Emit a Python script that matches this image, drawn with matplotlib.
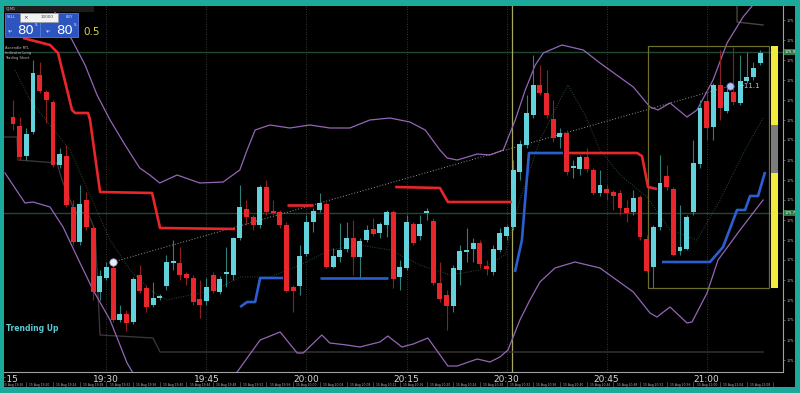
import numpy as np
import matplotlib
matplotlib.use("Agg")
import matplotlib.pyplot as plt
from matplotlib.patches import Rectangle
from matplotlib.transforms import blended_transform_factory

# 1-minute candles, x = minutes after 19:00 (first candle 19:16)
minutes = np.arange(16, 129)

opens = [175.883, 175.874, 175.844, 175.868, 175.925, 175.908, 175.898, 175.835, 175.844, 175.793,
         175.758, 175.800, 175.772, 175.708, 175.722, 175.732, 175.680, 175.686, 175.678, 175.725,
         175.712, 175.695, 175.702, 175.714, 175.737, 175.737, 175.726, 175.722, 175.701, 175.699,
         175.725, 175.708, 175.726, 175.725, 175.762, 175.791, 175.783, 175.775, 175.813, 175.789,
         175.788, 175.775, 175.713, 175.714, 175.746, 175.778, 175.790, 175.796, 175.733, 175.743,
         175.751, 175.762, 175.743, 175.760, 175.771, 175.767, 175.775, 175.788, 175.723, 175.732,
         175.776, 175.764, 175.787, 175.779, 175.717, 175.705, 175.694, 175.730, 175.748, 175.751,
         175.757, 175.734, 175.728, 175.750, 175.764, 175.773, 175.828, 175.855, 175.885, 175.915,
         175.907, 175.881, 175.863, 175.867, 175.832, 175.831, 175.843, 175.830, 175.807, 175.811,
         175.808, 175.807, 175.792, 175.788, 175.803, 175.761, 175.733, 175.773, 175.824, 175.811,
         175.749, 175.751, 175.788, 175.836, 175.899, 175.873, 175.915, 175.889, 175.908, 175.897,
         175.919, 175.923, 175.937]
highs = [175.900, 175.883, 175.872, 175.940, 175.938, 175.910, 175.900, 175.852, 175.855, 175.800,
         175.815, 175.808, 175.775, 175.730, 175.738, 175.735, 175.695, 175.690, 175.723, 175.735,
         175.715, 175.718, 175.706, 175.745, 175.760, 175.753, 175.728, 175.725, 175.720, 175.722,
         175.728, 175.724, 175.753, 175.763, 175.815, 175.800, 175.785, 175.815, 175.820, 175.800,
         175.790, 175.778, 175.715, 175.755, 175.785, 175.792, 175.807, 175.798, 175.752, 175.777,
         175.778, 175.780, 175.762, 175.775, 175.782, 175.778, 175.790, 175.790, 175.740, 175.785,
         175.778, 175.785, 175.792, 175.782, 175.738, 175.710, 175.735, 175.755, 175.772, 175.762,
         175.760, 175.740, 175.755, 175.772, 175.775, 175.840, 175.860, 175.905, 175.945, 175.935,
         175.930, 175.900, 175.872, 175.870, 175.840, 175.845, 175.852, 175.832, 175.830, 175.815,
         175.810, 175.810, 175.800, 175.810, 175.805, 175.765, 175.775, 175.845, 175.835, 175.813,
         175.795, 175.785, 175.860, 175.900, 175.910, 175.917, 175.950, 175.912, 175.953, 175.945,
         175.948, 175.938, 175.950]
lows = [175.870, 175.840, 175.840, 175.866, 175.907, 175.877, 175.833, 175.832, 175.793, 175.755,
        175.755, 175.770, 175.700, 175.700, 175.720, 175.678, 175.678, 175.669, 175.676, 175.707,
        175.688, 175.693, 175.700, 175.710, 175.730, 175.720, 175.715, 175.695, 175.682, 175.695,
        175.707, 175.706, 175.713, 175.720, 175.760, 175.775, 175.770, 175.772, 175.785, 175.785,
        175.772, 175.708, 175.688, 175.705, 175.744, 175.768, 175.788, 175.732, 175.732, 175.738,
        175.748, 175.725, 175.722, 175.758, 175.764, 175.762, 175.763, 175.712, 175.710, 175.730,
        175.755, 175.760, 175.780, 175.715, 175.698, 175.670, 175.688, 175.715, 175.738, 175.738,
        175.732, 175.725, 175.725, 175.748, 175.760, 175.770, 175.820, 175.852, 175.882, 175.905,
        175.882, 175.858, 175.852, 175.825, 175.822, 175.825, 175.828, 175.805, 175.804, 175.800,
        175.790, 175.785, 175.778, 175.785, 175.760, 175.728, 175.712, 175.770, 175.810, 175.744,
        175.745, 175.750, 175.785, 175.832, 175.860, 175.860, 175.880, 175.887, 175.895, 175.895,
        175.917, 175.920, 175.935]
closes = [175.876, 175.843, 175.866, 175.927, 175.909, 175.900, 175.835, 175.846, 175.795, 175.758,
          175.796, 175.773, 175.708, 175.724, 175.733, 175.680, 175.686, 175.677, 175.721, 175.709,
          175.693, 175.702, 175.704, 175.738, 175.738, 175.725, 175.722, 175.698, 175.695, 175.713,
          175.709, 175.721, 175.728, 175.762, 175.793, 175.783, 175.775, 175.813, 175.788, 175.787,
          175.775, 175.709, 175.709, 175.744, 175.778, 175.789, 175.797, 175.733, 175.744, 175.750,
          175.762, 175.743, 175.759, 175.770, 175.766, 175.776, 175.788, 175.721, 175.733, 175.778,
          175.757, 175.776, 175.788, 175.717, 175.701, 175.694, 175.732, 175.749, 175.750, 175.757,
          175.736, 175.731, 175.751, 175.767, 175.773, 175.830, 175.856, 175.887, 175.915, 175.907,
          175.885, 175.862, 175.867, 175.828, 175.833, 175.843, 175.831, 175.807, 175.815, 175.807,
          175.804, 175.792, 175.787, 175.802, 175.763, 175.729, 175.773, 175.817, 175.813, 175.745,
          175.753, 175.783, 175.837, 175.892, 175.872, 175.915, 175.892, 175.908, 175.898, 175.919,
          175.923, 175.932, 175.947]

# bollinger-like bands (purple)
upper_t = [21.55, 23.05, 24.85, 26.8, 28.6, 30.55, 32.8, 35.0, 36.5, 38.0, 40.6, 44.0, 47.5, 50.0, 51.1,
           52.3, 54.5, 57.5, 60.5, 63.5, 66.5, 69.5, 72.5, 75.5, 77.8, 80.0, 81.1, 82.6, 85.6, 87.5,
           89.5, 91.3, 92.8, 94.3, 95.5, 98.3, 101.5, 104.0, 109.0, 111.5, 112.7, 114.5, 117.05,
           118.55, 120.95, 123.05, 125.45, 127.55]
upper_p = [175.995, 175.980, 175.960, 175.935, 175.905, 175.880, 175.855, 175.832, 175.825, 175.817,
           175.825, 175.817, 175.818, 175.830, 175.850, 175.870, 175.875, 175.872, 175.875, 175.872,
           175.872, 175.880, 175.882, 175.878, 175.870, 175.850, 175.842, 175.840, 175.846, 175.845,
           175.850, 175.880, 175.910, 175.935, 175.947, 175.955, 175.950, 175.937, 175.913, 175.893,
           175.890, 175.897, 175.883, 175.890, 175.920, 175.957, 175.983, 176.000]
lower_t = [14.8, 17.8, 19.0, 21.55, 23.5, 26.05, 28.0, 30.55, 33.1, 35.05, 44.0, 49.6, 53.05, 56.05,
           58.6, 59.5, 62.3, 63.5, 66.05, 68.0, 71.0, 72.2, 74.3, 76.0, 78.2, 81.2, 82.6, 85.6, 87.5,
           89.0, 90.2, 92.0, 93.5, 95.0, 97.25, 100.25, 104.0, 109.0, 111.5, 112.55, 114.5, 117.05,
           117.8, 120.05, 121.7, 125.0, 128.45]
lower_p = [175.827, 175.797, 175.798, 175.793, 175.773, 175.737, 175.710, 175.680, 175.637, 175.615,
           175.600, 175.628, 175.660, 175.668, 175.647, 175.647, 175.665, 175.657, 175.655, 175.653,
           175.658, 175.664, 175.653, 175.656, 175.662, 175.634, 175.634, 175.641, 175.638, 175.643,
           175.650, 175.680, 175.700, 175.718, 175.732, 175.738, 175.732, 175.708, 175.687, 175.683,
           175.693, 175.677, 175.678, 175.707, 175.740, 175.770, 175.800]

# trailing stop lines (segments)
red_stop = [
    ([17.5, 21.55, 22.75, 24.85, 25.3, 27.25, 27.55, 29.05, 36.85, 38.05, 49.3],
     [175.962, 175.955, 175.947, 175.890, 175.887, 175.887, 175.880, 175.808, 175.807, 175.772, 175.771]),
    ([57.1, 61.0], [175.795, 175.795]),
    ([73.3, 80.0, 81.2, 90.8], [175.813, 175.812, 175.798, 175.798]),
    ([99.2, 109.55, 110.3, 111.2, 112.55], [175.847, 175.847, 175.844, 175.813, 175.811]),
]
blue_stop = [
    ([50.05, 51.1, 52.3, 53.05, 56.5], [175.693, 175.698, 175.698, 175.722, 175.722]),
    ([62.0, 72.2], [175.722, 175.722]),
    ([91.25, 92.3, 93.35, 98.45], [175.728, 175.760, 175.847, 175.847]),
    ([113.3, 120.5, 122.45, 124.55, 125.75, 126.5, 127.7, 128.75],
     [175.738, 175.738, 175.753, 175.790, 175.790, 175.804, 175.804, 175.828]),
]

# dotted average line
mid_t = [16.3, 18.55, 21.55, 24.55, 27.55, 30.55, 33.55, 36.55, 39.1, 42.55, 46.3, 50.05, 54.55, 59.05,
         63.55, 68.0, 72.5, 77.0, 81.5, 86.0, 89.75, 92.0, 95.0, 98.0, 99.2, 101.75, 104.0, 107.0,
         111.05, 114.5, 118.55, 122.0, 125.75, 128.45]
mid_p = [175.930, 175.900, 175.875, 175.850, 175.805, 175.760, 175.730, 175.710, 175.700, 175.705,
         175.710, 175.723, 175.723, 175.735, 175.750, 175.755, 175.750, 175.735, 175.725, 175.730,
         175.745, 175.800, 175.860, 175.900, 175.915, 175.885, 175.850, 175.825, 175.803, 175.770,
         175.760, 175.800, 175.850, 175.882]

# stepped channel lines (dark)
chan_lo_t = [14.65, 16.6, 16.75, 22.6, 23.35, 25.3, 27.25, 28.3, 29.05, 37.0, 38.05, 128.45]
chan_lo_p = [175.863, 175.863, 175.840, 175.837, 175.820, 175.788, 175.787, 175.770, 175.665,
             175.662, 175.648, 175.648]
chan_hi_t = [124.55, 124.55, 128.45]
chan_hi_p = [176.000, 175.978, 175.975]

# levels, markers, trend line
hlines = [175.948, 175.787]
marker_t = [31.0, 123.5]
marker_p = [175.738, 175.914]
box_t = [111.2, 129.35]
box_p = [175.712, 175.954]

time_ticks = [15, 30, 45, 60, 75, 90, 105, 120]
time_labels = ["19:15", "19:30", "19:45", "20:00", "20:15", "20:30", "20:45", "21:00"]
price_ticks = np.round(np.arange(175.64, 175.99, 0.02), 2)

TEAL = "#1aa99a"
CYAN = "#62d3dd"
RED = "#e8262b"
PURPLE = "#9466b6"
BLUE = "#2b5fd0"
W, H = 800, 393


def fx(x):
    return x / W


def fy(y):
    return 1 - y / H


fig = plt.figure(figsize=(8, 3.93), dpi=100)
fig.patch.set_facecolor(TEAL)
fig.add_artist(Rectangle((fx(4), fy(387)), 791 / W, 381 / H, transform=fig.transFigure,
                         facecolor="black", edgecolor="none", zorder=0))

ax = fig.add_axes([fx(4), fy(372), 779 / W, 366 / H])
ax.set_facecolor("black")
ax.set_xlim(14.65, 131.44)
ax.set_ylim(175.628, 175.994)

# grid
for t in time_ticks[1:]:
    ax.axvline(t, color="#4a4a4a", lw=0.6, ls=(0, (1, 2)), zorder=1)
for hp in hlines:
    ax.axhline(hp, color="#1f4a30", lw=1.0, zorder=1)
ax.axvline(90.8, color="#a8a860", lw=0.9, zorder=1)

# channel + average
ax.plot(chan_lo_t, chan_lo_p, color="#3b3434", lw=1.0, zorder=2)
ax.plot(chan_hi_t, chan_hi_p, color="#4a4444", lw=1.0, zorder=2)
ax.plot(mid_t, mid_p, color="#2a4e34", lw=0.7, ls=(0, (1, 1.5)), zorder=2)

# bands
ax.plot(upper_t, upper_p, color=PURPLE, lw=0.9, zorder=3)
ax.plot(lower_t, lower_p, color=PURPLE, lw=0.9, zorder=3)

# trend line between markers
ax.plot(marker_t, marker_p, color="#9a9a9a", lw=0.7, ls=(0, (1, 2)), zorder=3)

# box + yellow bar
ax.add_patch(Rectangle((box_t[0], box_p[0]), box_t[1] - box_t[0], box_p[1] - box_p[0],
                       facecolor="none", edgecolor="#6e6e2c", lw=0.9, zorder=3))
ax.add_patch(Rectangle((129.65, box_p[0]), 1.05, box_p[1] - box_p[0],
                       facecolor="#f3eb3c", edgecolor="none", zorder=3))
ax.add_patch(Rectangle((129.65, 175.827), 1.05, 0.048, facecolor="#7c7c7c", edgecolor="none", zorder=3))

# candles
o = np.array(opens)
h = np.array(highs)
l = np.array(lows)
c = np.array(closes)
up = c >= o
ax.vlines(minutes, l, h, colors=np.where(up, "#2f7f7a", "#8a2020"), lw=0.8, zorder=4)
ax.bar(minutes, np.maximum(np.abs(c - o), 0.0018), bottom=np.minimum(o, c), width=0.74,
       color=np.where(up, CYAN, RED), linewidth=0, zorder=5)

# stops
for ts, ps in red_stop:
    ax.plot(ts, ps, color=RED, lw=1.9, zorder=6, solid_capstyle="butt")
for ts, ps in blue_stop:
    ax.plot(ts, ps, color=BLUE, lw=1.9, zorder=6, solid_capstyle="butt")

# markers
ax.scatter(marker_t[0], marker_p[0], s=28, color="#e8eef8", edgecolor="#9aa6c8", lw=0.6, zorder=7)
ax.scatter(marker_t[1], marker_p[1], s=28, color="#b8c4f0", edgecolor="#5060c0", lw=0.6, zorder=7)
ax.text(marker_t[1] + 1.2, marker_p[1], "+11.1", color="#c8c8c8", fontsize=5, va="center", zorder=7)

ax.text(0.002, 0.12, "Trending Up", transform=ax.transAxes, color="#5cc8d2", fontsize=5.5,
        fontweight="bold", va="center")

# axes styling
for s in ["top", "left"]:
    ax.spines[s].set_visible(False)
for s in ["bottom", "right"]:
    ax.spines[s].set_color("#a0a0a0")
    ax.spines[s].set_linewidth(0.8)
ax.set_xticks(time_ticks)
ax.set_xticklabels(time_labels, fontsize=6.5, color="#d8d8d8")
ax.tick_params(axis="x", length=0, pad=2)
ax.yaxis.tick_right()
ax.set_yticks(price_ticks)
ax.set_yticklabels([f"{v:.2f}" for v in price_ticks], fontsize=2.8, color="#bdbdbd")
ax.tick_params(axis="y", length=1.5, width=0.4, color="#a0a0a0", pad=1)
for hp in hlines:
    ax.text(131.7, hp, f"{hp:.3f}", fontsize=2.8, color="white", va="center", clip_on=False,
            bbox=dict(boxstyle="square,pad=0.15", fc="#2e7a48", ec="none"), zorder=8)

# date strip under the time labels
tr = blended_transform_factory(ax.transData, ax.transAxes)
for m in range(16, 131, 4):
    ax.text(m, -0.036, f"15 Aug {19 + m // 60}:{m % 60:02d}", transform=tr, fontsize=2.2,
            color="#b0b0b0", ha="center", va="center", clip_on=False)
    ax.plot([m + 2, m + 2], [-0.045, -0.028], transform=tr, color="#777777", lw=0.4, clip_on=False)

# trade panel (top left)
fig.add_artist(Rectangle((fx(4), fy(12)), 90 / W, 6 / H, transform=fig.transFigure,
                         facecolor="#1c1c1c", edgecolor="none", zorder=9))
fig.text(fx(6), fy(9), "GJ,M1", fontsize=2.5, color="#cfcfcf", va="center", zorder=10)
fig.add_artist(Rectangle((fx(5), fy(37)), 35 / W, 24 / H, transform=fig.transFigure,
                         facecolor="#2d55bf", edgecolor="#5a7ad8", lw=0.6, zorder=9))
fig.add_artist(Rectangle((fx(40), fy(37)), 38 / W, 24 / H, transform=fig.transFigure,
                         facecolor="#2d55bf", edgecolor="#5a7ad8", lw=0.6, zorder=9))
fig.add_artist(Rectangle((fx(20), fy(22)), 38 / W, 9 / H, transform=fig.transFigure,
                         facecolor="#f2f2f2", edgecolor="#9a9a9a", lw=0.5, zorder=10))
fig.text(fx(23), fy(17.5), "×", fontsize=4, color="#444444", va="center", zorder=11)
fig.text(fx(54), fy(17.5), "10000", fontsize=3, color="#444444", va="center", ha="right", zorder=11)
fig.text(fx(7), fy(17), "SELL", fontsize=2.6, color="#dfe6ff", va="center", zorder=11)
fig.text(fx(66), fy(17), "BUY", fontsize=2.6, color="#dfe6ff", va="center", zorder=11)
fig.text(fx(8), fy(31), "sp", fontsize=3, color="#dfe6ff", va="center", zorder=11)
fig.text(fx(17.5), fy(30.5), "80", fontsize=9.5, color="white", va="center", zorder=11)
fig.text(fx(35), fy(24.5), "5", fontsize=3, color="white", va="center", zorder=11)
fig.text(fx(46), fy(31), "sp", fontsize=3, color="#dfe6ff", va="center", zorder=11)
fig.text(fx(56.5), fy(30.5), "80", fontsize=9.5, color="white", va="center", zorder=11)
fig.text(fx(74), fy(24.5), "5", fontsize=3, color="white", va="center", zorder=11)
fig.text(fx(83), fy(32), "0.5", fontsize=7.5, color="#d8d050", va="center", zorder=11)
for k, s in enumerate(["Ascendle RTL", "Indicator Long", "Trading Short"]):
    fig.text(fx(5), fy(48 + 5 * k), s, fontsize=2.6, color="#bdbdbd", va="center", zorder=11)

# teal frame on top
for x0, y0, w, hh in [(0, 0, 4, 393), (795, 0, 5, 393), (0, 0, 800, 6), (0, 387, 800, 6)]:
    fig.add_artist(Rectangle((fx(x0), fy(y0 + hh)), w / W, hh / H, transform=fig.transFigure,
                             facecolor=TEAL, edgecolor="none", zorder=20))

fig.savefig("out.png", dpi=100, facecolor=TEAL)
